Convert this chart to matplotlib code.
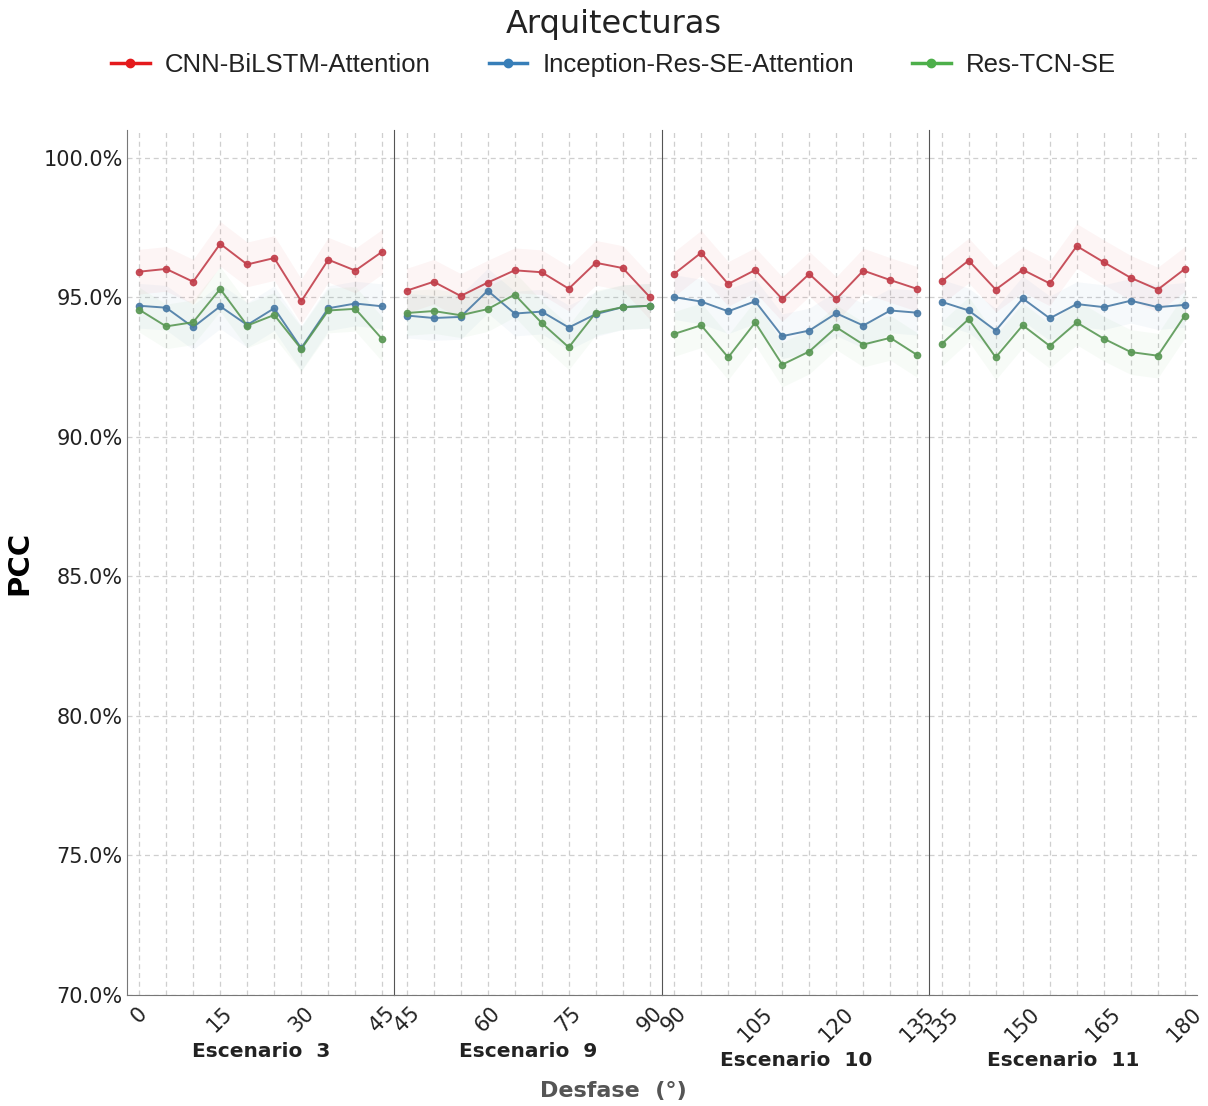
import matplotlib.pyplot as plt
import numpy as np
from matplotlib.ticker import FuncFormatter
from matplotlib.lines import Line2D

# escenarios y desfases
escenarios = ["Escenario  3", "Escenario  9", "Escenario  10", "Escenario  11"]
inicio = [0, 45, 90, 135]
paso = 5

modelos = ["CNN-BiLSTM-Attention", "Inception-Res-SE-Attention", "Res-TCN-SE"]
colores = ["#e41a1c", "#377eb8", "#4daf4a"]
lineas = ["#c23f4b", "#4a7ba6", "#5a9855"]

# PCC (%) por escenario, 10 desfases cada uno
cnn = [
    [95.92, 96.02, 95.56, 96.92, 96.18, 96.41, 94.86, 96.35, 95.96, 96.64],
    [95.24, 95.56, 95.05, 95.53, 95.97, 95.90, 95.31, 96.24, 96.05, 95.01],
    [95.84, 96.60, 95.48, 95.98, 94.94, 95.84, 94.94, 95.96, 95.62, 95.30],
    [95.57, 96.32, 95.28, 95.99, 95.50, 96.84, 96.26, 95.70, 95.28, 96.02],
]
inception = [
    [94.70, 94.63, 93.93, 94.68, 94.01, 94.61, 93.18, 94.61, 94.78, 94.68],
    [94.35, 94.26, 94.30, 95.24, 94.42, 94.49, 93.92, 94.40, 94.65, 94.70],
    [95.01, 94.85, 94.50, 94.86, 93.61, 93.81, 94.43, 93.99, 94.53, 94.45],
    [94.84, 94.53, 93.81, 94.96, 94.25, 94.76, 94.65, 94.88, 94.65, 94.73],
]
restcn = [
    [94.56, 93.96, 94.11, 95.30, 93.99, 94.37, 93.15, 94.53, 94.59, 93.50],
    [94.44, 94.51, 94.36, 94.58, 95.10, 94.08, 93.21, 94.45, 94.65, 94.70],
    [93.69, 94.00, 92.85, 94.10, 92.59, 93.06, 93.93, 93.31, 93.55, 92.93],
    [93.33, 94.22, 92.85, 94.00, 93.26, 94.10, 93.52, 93.04, 92.91, 94.35],
]
series = [cnn, inception, restcn]
banda = 0.8

fig, axes = plt.subplots(1, 4, figsize=(12.08, 11.06), dpi=100, sharey=True)
fig.subplots_adjust(left=0.1051, right=0.9909, top=0.8825, bottom=0.1004, wspace=0)

for k, ax in enumerate(axes):
    x = inicio[k] + paso * np.arange(10)
    for s, datos in enumerate(series):
        y = np.array(datos[k])
        ax.fill_between(x, y - banda, y + banda, color=colores[s], alpha=0.045, lw=0)
        ax.plot(x, y, color=lineas[s], lw=1.4, marker="o", ms=4.5, alpha=0.9)
    ax.set_xlim(inicio[k] - 2.25, inicio[k] + 47.25)
    ax.set_xticks(x)
    ax.set_xticklabels([str(v) if v % 15 == 0 else "" for v in x],
                       rotation=45, fontsize=15, color="#222222")
    ax.grid(True, ls=(0, (4, 3)), color="#cfcfcf", lw=0.9)
    ax.set_axisbelow(True)
    ax.tick_params(axis="x", length=0, pad=6)
    ax.tick_params(axis="y", length=0, pad=3)
    for lado in ["top", "right"]:
        ax.spines[lado].set_visible(False)
    ax.spines["left"].set_color("#555555" if k > 0 else "#777777")
    ax.spines["bottom"].set_color("#777777")
    ax.set_xlabel(escenarios[k], fontsize=14.5, fontweight="bold", color="#222222", labelpad=4)

axes[0].set_ylim(70, 101)
axes[0].set_yticks([70, 75, 80, 85, 90, 95, 100])
axes[0].yaxis.set_major_formatter(FuncFormatter(lambda v, p: f"{v:.1f}%"))
axes[0].tick_params(axis="y", labelsize=15, labelcolor="#222222")
axes[0].set_ylabel("PCC", fontsize=21, fontweight="bold", labelpad=7)

fig.text(0.508, 0.008, "Desfase  (°)", ha="center", fontsize=16, fontweight="bold", color="#555555")

handles = [Line2D([], [], color=c, lw=2.5, marker="o", ms=6) for c in colores]
leg = fig.legend(handles, modelos, loc="upper center", bbox_to_anchor=(0.508, 1.013), ncol=3,
                 frameon=False, title="Arquitecturas", title_fontsize=23, columnspacing=2.25,
                 handlelength=1.5, handletextpad=0.6,
                 prop={"family": ["Liberation Sans", "DejaVu Sans"], "size": 18.5})
for t in leg.get_texts():
    t.set_color("#222222")
leg.get_title().set_color("#222222")

fig.savefig("out.png", dpi=100)
